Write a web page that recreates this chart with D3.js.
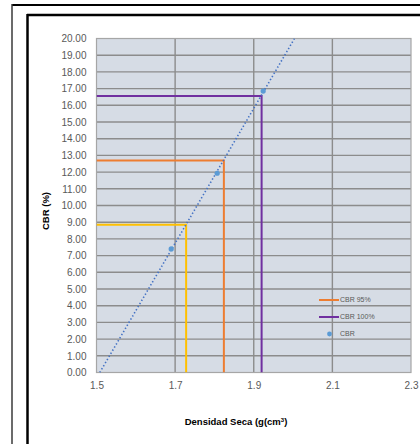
<!DOCTYPE html>
<html>
<head>
<meta charset="utf-8">
<script src="https://cdn.jsdelivr.net/npm/d3@7"></script>
<style>
  html, body { margin: 0; padding: 0; background: #fff; }
  svg { display: block; font-family: "Liberation Sans", Arial, sans-serif; }
</style>
</head>
<body>
<svg id="chart" width="420" height="444"></svg>
<script>
// Measured CBR test points: dry density (g/cm3) vs CBR (%)
const densities = [1.690, 1.807, 1.924];
const cbrValues = [7.40, 11.93, 16.85];

// Reference compaction levels (100%, 95%, 90% of max dry density) and their CBR reading
const levelNames = ["CBR 100%", "CBR 95%", "CBR 90%"];
const levelDensity = [1.920, 1.824, 1.728];
const levelCbr = [16.55, 12.70, 8.85];
const levelColors = ["#7030A0", "#ED7D31", "#FFC000"];

// Axis ticks
const xTicks = [1.5, 1.7, 1.9, 2.1, 2.3];
const yTicks = d3.range(0, 21, 1);

const svg = d3.select("#chart");

// Sheet frame lines
svg.append("line").attr("x1", 12).attr("y1", 5).attr("x2", 420).attr("y2", 5)
  .attr("stroke", "#000").attr("stroke-width", 2);
svg.append("line").attr("x1", 12).attr("y1", 4).attr("x2", 12).attr("y2", 444)
  .attr("stroke", "#3a3a3a").attr("stroke-width", 1.5);
svg.append("line").attr("x1", 27).attr("y1", 15).attr("x2", 420).attr("y2", 15)
  .attr("stroke", "#000").attr("stroke-width", 2.5);
svg.append("line").attr("x1", 27.5).attr("y1", 14).attr("x2", 27.5).attr("y2", 444)
  .attr("stroke", "#000").attr("stroke-width", 2.5);

const plot = { left: 96.5, right: 411, top: 38.5, bottom: 372.5 };

const x = d3.scaleLinear().domain([1.5, 2.3]).range([plot.left, plot.right]);
const y = d3.scaleLinear().domain([0, 20]).range([plot.bottom, plot.top]);

// Plot background
svg.append("rect")
  .attr("x", plot.left).attr("y", plot.top)
  .attr("width", plot.right - plot.left).attr("height", plot.bottom - plot.top)
  .attr("fill", "#D6DCE5");

// Gridlines
const grid = svg.append("g");
grid.selectAll("line.h").data(yTicks.filter(v => v > 0 && v < 20)).enter().append("line")
  .attr("x1", plot.left).attr("x2", plot.right)
  .attr("y1", d => y(d)).attr("y2", d => y(d))
  .attr("stroke", "#8C8C8C").attr("stroke-width", 1.4);
grid.selectAll("line.v").data(xTicks.filter(v => v > 1.5 && v < 2.3)).enter().append("line")
  .attr("x1", d => x(d)).attr("x2", d => x(d))
  .attr("y1", plot.top).attr("y2", plot.bottom)
  .attr("stroke", "#8C8C8C").attr("stroke-width", 1.4);

// Plot border
svg.append("rect")
  .attr("x", plot.left).attr("y", plot.top)
  .attr("width", plot.right - plot.left).attr("height", plot.bottom - plot.top)
  .attr("fill", "none").attr("stroke", "#A6A6A6").attr("stroke-width", 1.2);

// Y axis labels
const yAxis = d3.axisLeft(y).tickValues(yTicks).tickFormat(d3.format(".2f")).tickSize(0).tickPadding(10);
const gy = svg.append("g").attr("transform", `translate(${plot.left},0)`).call(yAxis);
gy.select(".domain").remove();
gy.selectAll("text").attr("fill", "#595959").attr("font-size", 10)
  .attr("font-family", "Liberation Sans, Arial, sans-serif");

// X axis labels
const xAxis = d3.axisBottom(x).tickValues(xTicks).tickFormat(d3.format(".1f")).tickSize(0).tickPadding(9);
const gx = svg.append("g").attr("transform", `translate(0,${plot.bottom})`).call(xAxis);
gx.select(".domain").remove();
gx.selectAll("text").attr("fill", "#595959").attr("font-size", 10)
  .attr("font-family", "Liberation Sans, Arial, sans-serif");

// Clip region for plotted series
svg.append("clipPath").attr("id", "plotClip").append("rect")
  .attr("x", plot.left).attr("y", plot.top)
  .attr("width", plot.right - plot.left).attr("height", plot.bottom - plot.top);

const series = svg.append("g").attr("clip-path", "url(#plotClip)");

// Compaction level guides: horizontal from the axis to the density, then down to zero
levelNames.forEach((name, i) => {
  const pts = [[1.5, levelCbr[i]], [levelDensity[i], levelCbr[i]], [levelDensity[i], 0]];
  series.append("path")
    .attr("d", d3.line().x(d => x(d[0])).y(d => y(d[1]))(pts))
    .attr("fill", "none").attr("stroke", levelColors[i]).attr("stroke-width", 2);
});

// Linear trendline fitted to the test points
const mx = d3.mean(densities), my = d3.mean(cbrValues);
const slope = d3.sum(densities, (d, i) => (d - mx) * (cbrValues[i] - my)) /
              d3.sum(densities, d => (d - mx) * (d - mx));
const icpt = my - slope * mx;
const xLo = (0 - icpt) / slope, xHi = (20 - icpt) / slope;
series.append("line")
  .attr("x1", x(xLo)).attr("y1", y(0)).attr("x2", x(xHi)).attr("y2", y(20))
  .attr("stroke", "#4472C4").attr("stroke-width", 1.6)
  .attr("stroke-dasharray", "1.4,2.2");

// Test points
series.selectAll("circle.pt").data(densities).enter().append("circle")
  .attr("cx", d => x(d)).attr("cy", (d, i) => y(cbrValues[i]))
  .attr("r", 2.6).attr("fill", "#5B9BD5");

// Legend
const legend = svg.append("g");
const legendRows = [
  { label: "CBR 95%", type: "line", color: levelColors[1] },
  { label: "CBR 100%", type: "line", color: levelColors[0] },
  { label: "CBR", type: "dot", color: "#5B9BD5" }
];
legendRows.forEach((r, i) => {
  const ly = 300 + i * 17;
  if (r.type === "line") {
    legend.append("line").attr("x1", 319).attr("x2", 339).attr("y1", ly).attr("y2", ly)
      .attr("stroke", r.color).attr("stroke-width", 2);
  } else {
    legend.append("circle").attr("cx", 329.5).attr("cy", ly).attr("r", 2.4).attr("fill", r.color);
  }
  legend.append("text").attr("x", 340).attr("y", ly).attr("dy", "0.35em")
    .attr("font-size", 7).attr("fill", "#595959").text(r.label);
});

// Axis titles
svg.append("text")
  .attr("transform", "translate(49,211) rotate(-90)")
  .attr("text-anchor", "middle").attr("font-size", 9.5).attr("font-weight", "bold")
  .attr("fill", "#000").text("CBR (%)");

const xt = svg.append("text")
  .attr("x", 236).attr("y", 425).attr("text-anchor", "middle")
  .attr("font-size", 9.5).attr("font-weight", "bold").attr("fill", "#000");
xt.append("tspan").text("Densidad Seca (g(cm");
xt.append("tspan").attr("font-size", 6).attr("dy", -3.5).text("3");
xt.append("tspan").attr("dy", 3.5).text(")");
</script>
</body>
</html>
